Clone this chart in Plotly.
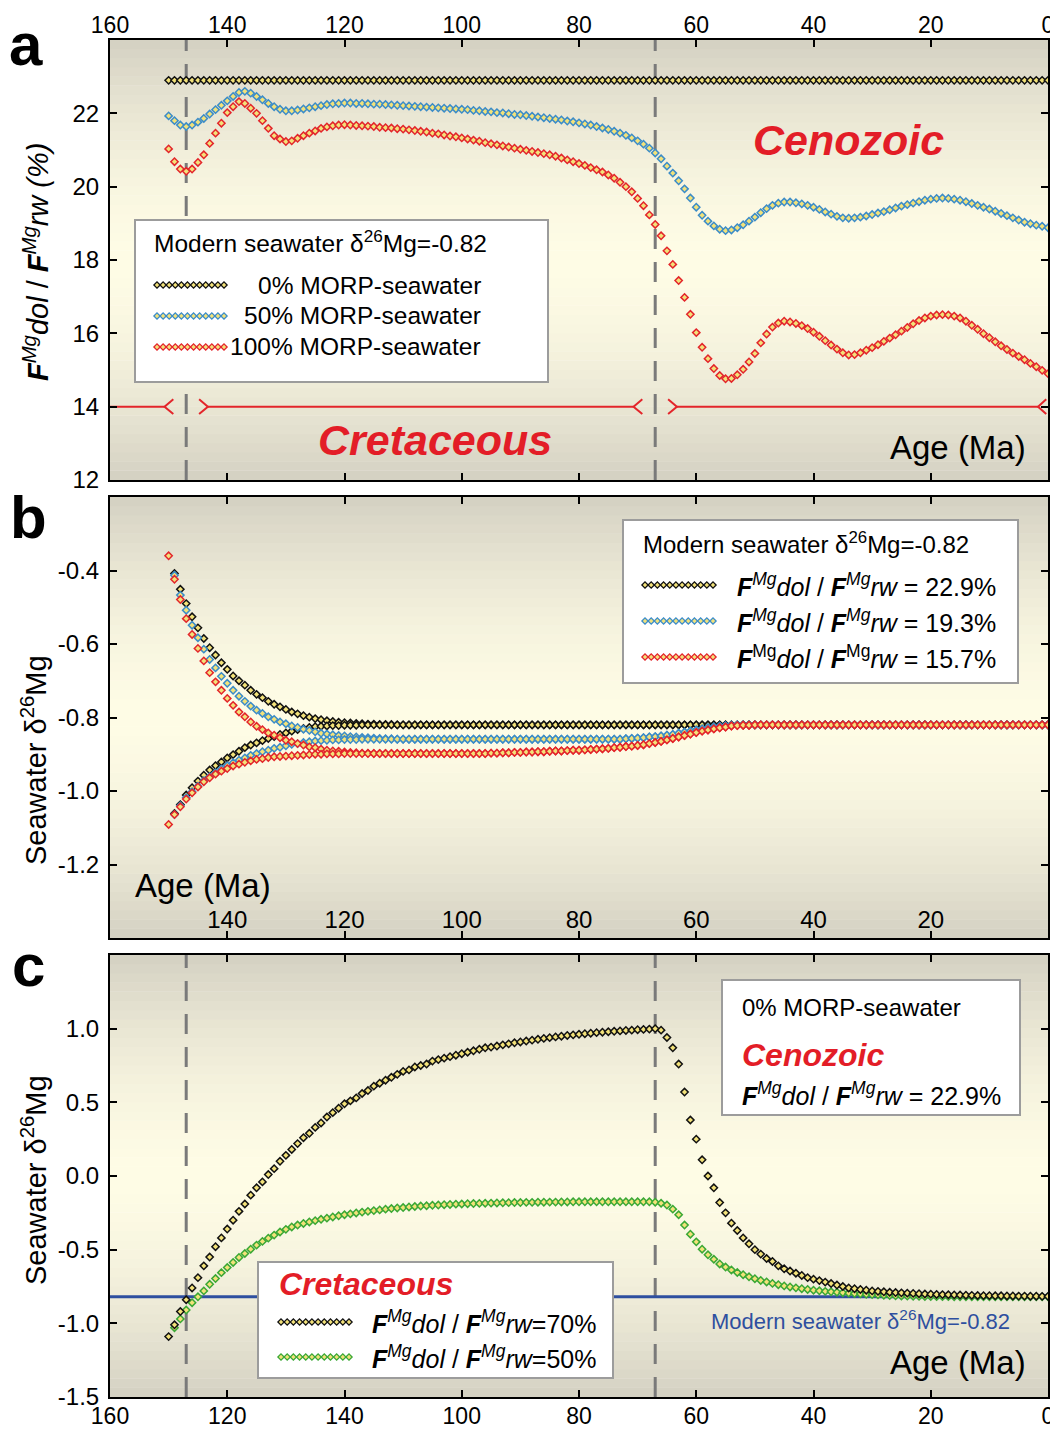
import plotly.graph_objects as go

# The page body adds an 8 px margin; the figure is sized so that figure + margin = 1058 x 1429.
OFF = 8
PAGE_W, PAGE_H = 1058, 1429
W, H = PAGE_W - OFF, PAGE_H - OFF
FONT = "Liberation Sans, Arial, Helvetica, sans-serif"

# ---------------- DATA ----------------
# Panel a: F_dol / F_rw (%) vs age (Ma), 1-Ma steps from 150 to 0
age_a = list(range(150, -1, -1))
a_black = [
    22.9, 22.9, 22.9, 22.9, 22.9, 22.9, 22.9, 22.9, 22.9, 22.9,
    22.9, 22.9, 22.9, 22.9, 22.9, 22.9, 22.9, 22.9, 22.9, 22.9,
    22.9, 22.9, 22.9, 22.9, 22.9, 22.9, 22.9, 22.9, 22.9, 22.9,
    22.9, 22.9, 22.9, 22.9, 22.9, 22.9, 22.9, 22.9, 22.9, 22.9,
    22.9, 22.9, 22.9, 22.9, 22.9, 22.9, 22.9, 22.9, 22.9, 22.9,
    22.9, 22.9, 22.9, 22.9, 22.9, 22.9, 22.9, 22.9, 22.9, 22.9,
    22.9, 22.9, 22.9, 22.9, 22.9, 22.9, 22.9, 22.9, 22.9, 22.9,
    22.9, 22.9, 22.9, 22.9, 22.9, 22.9, 22.9, 22.9, 22.9, 22.9,
    22.9, 22.9, 22.9, 22.9, 22.9, 22.9, 22.9, 22.9, 22.9, 22.9,
    22.9, 22.9, 22.9, 22.9, 22.9, 22.9, 22.9, 22.9, 22.9, 22.9,
    22.9, 22.9, 22.9, 22.9, 22.9, 22.9, 22.9, 22.9, 22.9, 22.9,
    22.9, 22.9, 22.9, 22.9, 22.9, 22.9, 22.9, 22.9, 22.9, 22.9,
    22.9, 22.9, 22.9, 22.9, 22.9, 22.9, 22.9, 22.9, 22.9, 22.9,
    22.9, 22.9, 22.9, 22.9, 22.9, 22.9, 22.9, 22.9, 22.9, 22.9,
    22.9, 22.9, 22.9, 22.9, 22.9, 22.9, 22.9, 22.9, 22.9, 22.9,
    22.9,
]
a_blue = [
    21.93, 21.80, 21.68, 21.64, 21.68, 21.76, 21.86, 21.98, 22.10, 22.22,
    22.34, 22.46, 22.57, 22.60, 22.55, 22.46, 22.37, 22.27, 22.18, 22.11,
    22.07, 22.07, 22.09, 22.12, 22.15, 22.18, 22.21, 22.24, 22.26, 22.27,
    22.28, 22.28, 22.27, 22.27, 22.26, 22.25, 22.25, 22.24, 22.23, 22.22,
    22.21, 22.20, 22.19, 22.18, 22.17, 22.16, 22.15, 22.14, 22.13, 22.12,
    22.11, 22.10, 22.08, 22.07, 22.05, 22.04, 22.02, 22.01, 21.99, 21.97,
    21.96, 21.94, 21.92, 21.90, 21.88, 21.86, 21.84, 21.82, 21.79, 21.77,
    21.74, 21.71, 21.68, 21.64, 21.60, 21.56, 21.51, 21.46, 21.40, 21.33,
    21.25, 21.16, 21.05, 20.92, 20.76, 20.56, 20.37, 20.16, 19.94, 19.69,
    19.44, 19.22, 19.06, 18.93, 18.84, 18.80, 18.82, 18.88, 18.96, 19.06,
    19.17, 19.29, 19.40, 19.49, 19.55, 19.58, 19.58, 19.56, 19.53, 19.49,
    19.44, 19.38, 19.31, 19.25, 19.19, 19.15, 19.14, 19.15, 19.17, 19.20,
    19.24, 19.28, 19.32, 19.37, 19.42, 19.47, 19.51, 19.55, 19.59, 19.63,
    19.66, 19.68, 19.69, 19.68, 19.66, 19.63, 19.59, 19.54, 19.49, 19.44,
    19.39, 19.33, 19.27, 19.21, 19.15, 19.09, 19.03, 18.99, 18.95, 18.92,
    18.88,
]
a_red = [
    21.03, 20.68, 20.48, 20.42, 20.48, 20.66, 20.87, 21.18, 21.46, 21.73,
    22.02, 22.18, 22.32, 22.27, 22.14, 22.00, 21.80, 21.59, 21.39, 21.30,
    21.23, 21.25, 21.32, 21.39, 21.46, 21.52, 21.59, 21.63, 21.66, 21.68,
    21.69, 21.68, 21.67, 21.66, 21.65, 21.64, 21.62, 21.61, 21.60, 21.58,
    21.57, 21.55, 21.53, 21.51, 21.49, 21.46, 21.44, 21.41, 21.38, 21.36,
    21.33, 21.30, 21.27, 21.24, 21.20, 21.17, 21.14, 21.11, 21.08, 21.05,
    21.02, 20.99, 20.96, 20.93, 20.90, 20.87, 20.83, 20.78, 20.73, 20.68,
    20.63, 20.58, 20.52, 20.46, 20.40, 20.32, 20.23, 20.12, 20.00, 19.86,
    19.68, 19.48, 19.23, 18.97, 18.66, 18.25, 17.88, 17.44, 16.98, 16.52,
    16.02, 15.62, 15.31, 15.04, 14.85, 14.76, 14.77, 14.87, 15.02, 15.22,
    15.45, 15.74, 15.98, 16.17, 16.28, 16.33, 16.31, 16.27, 16.21, 16.13,
    16.03, 15.92, 15.80, 15.68, 15.57, 15.47, 15.41, 15.42, 15.47, 15.54,
    15.61, 15.69, 15.78, 15.87, 15.96, 16.06, 16.16, 16.26, 16.35, 16.42,
    16.47, 16.50, 16.51, 16.50, 16.47, 16.42, 16.33, 16.22, 16.11, 15.99,
    15.88, 15.77, 15.66, 15.56, 15.46, 15.37, 15.28, 15.18, 15.09, 14.99,
    14.90,
]

# Panel b: seawater d26Mg; upper/lower starting branches (heads) merge into a common tail
age_b_head_bk = list(range(149, 110, -1))   # 149..111 (black, blue)
age_b_head_rd = list(range(150, 110, -1))   # 150..111 (red)
age_b_tail = list(range(110, -1, -1))       # 110..0
b_black_up_head = [
    -0.408, -0.451, -0.490, -0.526, -0.556, -0.585, -0.610, -0.630, -0.651, -0.669,
    -0.687, -0.700, -0.712, -0.726, -0.737, -0.746, -0.756, -0.764, -0.771, -0.778,
    -0.785, -0.790, -0.795, -0.799, -0.803, -0.806, -0.809, -0.811, -0.813, -0.814,
    -0.815, -0.816, -0.817, -0.818, -0.818, -0.819, -0.819, -0.819, -0.820,
]
b_black_lo_head = [
    -1.061, -1.037, -1.011, -0.991, -0.973, -0.957, -0.943, -0.931, -0.921, -0.910,
    -0.901, -0.892, -0.882, -0.875, -0.869, -0.863, -0.857, -0.852, -0.846, -0.842,
    -0.837, -0.833, -0.830, -0.827, -0.825, -0.824, -0.823, -0.822, -0.822, -0.821,
    -0.821, -0.821, -0.820, -0.820, -0.820, -0.820, -0.820, -0.820, -0.820,
]
b_black_tail = [
    -0.82, -0.82, -0.82, -0.82, -0.82, -0.82, -0.82, -0.82, -0.82, -0.82,
    -0.82, -0.82, -0.82, -0.82, -0.82, -0.82, -0.82, -0.82, -0.82, -0.82,
    -0.82, -0.82, -0.82, -0.82, -0.82, -0.82, -0.82, -0.82, -0.82, -0.82,
    -0.82, -0.82, -0.82, -0.82, -0.82, -0.82, -0.82, -0.82, -0.82, -0.82,
    -0.82, -0.82, -0.82, -0.82, -0.82, -0.82, -0.82, -0.82, -0.82, -0.82,
    -0.82, -0.82, -0.82, -0.82, -0.82, -0.82, -0.82, -0.82, -0.82, -0.82,
    -0.82, -0.82, -0.82, -0.82, -0.82, -0.82, -0.82, -0.82, -0.82, -0.82,
    -0.82, -0.82, -0.82, -0.82, -0.82, -0.82, -0.82, -0.82, -0.82, -0.82,
    -0.82, -0.82, -0.82, -0.82, -0.82, -0.82, -0.82, -0.82, -0.82, -0.82,
    -0.82, -0.82, -0.82, -0.82, -0.82, -0.82, -0.82, -0.82, -0.82, -0.82,
    -0.82, -0.82, -0.82, -0.82, -0.82, -0.82, -0.82, -0.82, -0.82, -0.82,
    -0.82,
]
b_blue_up_head = [
    -0.413, -0.467, -0.508, -0.549, -0.583, -0.614, -0.642, -0.665, -0.688, -0.707,
    -0.726, -0.742, -0.756, -0.769, -0.780, -0.789, -0.798, -0.805, -0.812, -0.817,
    -0.823, -0.827, -0.832, -0.835, -0.839, -0.843, -0.845, -0.847, -0.849, -0.850,
    -0.852, -0.853, -0.854, -0.855, -0.856, -0.857, -0.858, -0.858, -0.859,
]
b_blue_lo_head = [
    -1.064, -1.040, -1.018, -1.002, -0.987, -0.972, -0.961, -0.950, -0.940, -0.931,
    -0.923, -0.916, -0.910, -0.903, -0.898, -0.893, -0.889, -0.884, -0.881, -0.877,
    -0.873, -0.871, -0.868, -0.866, -0.864, -0.863, -0.862, -0.861, -0.861, -0.860,
    -0.860, -0.860, -0.859, -0.859, -0.859, -0.859, -0.859, -0.859, -0.859,
]
b_blue_tail = [
    -0.859, -0.859, -0.859, -0.859, -0.859, -0.859, -0.859, -0.859, -0.859, -0.859,
    -0.859, -0.859, -0.859, -0.859, -0.859, -0.859, -0.859, -0.859, -0.859, -0.859,
    -0.859, -0.859, -0.859, -0.859, -0.859, -0.859, -0.859, -0.859, -0.859, -0.859,
    -0.859, -0.859, -0.859, -0.859, -0.859, -0.859, -0.859, -0.859,
    -0.858, -0.857, -0.856, -0.855, -0.853, -0.852, -0.850, -0.848, -0.846, -0.843,
    -0.840, -0.837, -0.834, -0.831, -0.828, -0.826, -0.824, -0.822, -0.821,
    -0.820, -0.820, -0.820, -0.820, -0.820, -0.820, -0.820, -0.820, -0.820, -0.820,
    -0.820, -0.820, -0.820, -0.820, -0.820, -0.820, -0.820, -0.820, -0.820, -0.820,
    -0.820, -0.820, -0.820, -0.820, -0.820, -0.820, -0.820, -0.820, -0.820, -0.820,
    -0.820, -0.820, -0.820, -0.820, -0.820, -0.820, -0.820, -0.820, -0.820, -0.820,
    -0.820, -0.820, -0.820, -0.820, -0.820, -0.820, -0.820, -0.820, -0.820, -0.820,
    -0.820, -0.820, -0.820, -0.820,
]
b_red_up_head = [
    -0.360, -0.424, -0.479, -0.531, -0.574, -0.612, -0.646, -0.678, -0.703, -0.726,
    -0.748, -0.767, -0.785, -0.798, -0.812, -0.824, -0.833, -0.842, -0.848, -0.855,
    -0.862, -0.866, -0.871, -0.875, -0.880, -0.882, -0.886, -0.889, -0.891, -0.892,
    -0.894, -0.895, -0.896, -0.897, -0.897, -0.898, -0.898, -0.898, -0.898, -0.898,
]
b_red_lo_head = [
    -1.091, -1.064, -1.043, -1.022, -1.005, -0.989, -0.975, -0.964, -0.954, -0.946,
    -0.939, -0.932, -0.927, -0.922, -0.918, -0.914, -0.912, -0.909, -0.907, -0.906,
    -0.905, -0.904, -0.903, -0.902, -0.901, -0.900, -0.900, -0.899, -0.899, -0.899,
    -0.898, -0.898, -0.898, -0.898, -0.898, -0.898, -0.898, -0.898, -0.898, -0.898,
]
b_red_tail = [
    -0.898, -0.898, -0.898, -0.898, -0.898, -0.898, -0.898, -0.898, -0.898, -0.898,
    -0.898, -0.898, -0.898, -0.898, -0.898,
    -0.897, -0.897, -0.896, -0.896, -0.895, -0.895, -0.894, -0.894, -0.893, -0.893,
    -0.892, -0.891, -0.891, -0.890, -0.889, -0.889, -0.888, -0.887, -0.886, -0.885,
    -0.884, -0.882, -0.881, -0.879, -0.878, -0.876, -0.874, -0.871, -0.868, -0.865,
    -0.861, -0.857, -0.853, -0.849, -0.845, -0.841, -0.837, -0.834, -0.831, -0.828,
    -0.826, -0.823, -0.822, -0.821, -0.821, -0.820,
    -0.820, -0.820, -0.820, -0.820, -0.820, -0.820, -0.820, -0.820, -0.820, -0.820,
    -0.820, -0.820, -0.820, -0.820, -0.820, -0.820, -0.820, -0.820, -0.820, -0.820,
    -0.820, -0.820, -0.820, -0.820, -0.820, -0.820, -0.820, -0.820, -0.820, -0.820,
    -0.820, -0.820, -0.820, -0.820, -0.820, -0.820, -0.820, -0.820, -0.820, -0.820,
    -0.820, -0.820, -0.820, -0.820, -0.820, -0.820, -0.820, -0.820, -0.820, -0.820,
]

# Panel c: seawater d26Mg, Cretaceous F_dol/F_rw = 70% (black) and 50% (green)
age_c_black = list(range(150, -1, -1))
age_c_green = list(range(149, -1, -1))
c_black = [
    -1.09, -1.01, -0.92, -0.84, -0.76, -0.69, -0.61, -0.55, -0.48, -0.42,
    -0.36, -0.30, -0.24, -0.19, -0.13, -0.08, -0.04, 0.01, 0.05, 0.10,
    0.14, 0.18, 0.22, 0.26, 0.29, 0.33, 0.36, 0.40, 0.43, 0.46,
    0.49, 0.51, 0.53, 0.56, 0.58, 0.61, 0.63, 0.65, 0.67, 0.69,
    0.71, 0.72, 0.74, 0.75, 0.76, 0.78, 0.79, 0.80, 0.81, 0.82,
    0.83, 0.84, 0.85, 0.86, 0.87, 0.875, 0.882, 0.89, 0.897, 0.904,
    0.91, 0.916, 0.922, 0.928, 0.934, 0.939, 0.944, 0.949, 0.954, 0.958,
    0.962, 0.966, 0.969, 0.973, 0.976, 0.979, 0.982, 0.985, 0.988, 0.99,
    0.993, 0.995, 0.997, 1.0,
    0.99, 0.94, 0.87, 0.76, 0.57, 0.38, 0.25, 0.11, 0.00, -0.08,
    -0.18, -0.25, -0.32, -0.37, -0.42, -0.46, -0.50, -0.53, -0.56, -0.58,
    -0.61, -0.63, -0.645, -0.66, -0.675, -0.69, -0.70, -0.71, -0.72, -0.73,
    -0.74, -0.75, -0.76, -0.765, -0.77, -0.775, -0.78, -0.783, -0.786, -0.789,
    -0.791, -0.793, -0.795, -0.797, -0.799, -0.801, -0.802, -0.804, -0.805, -0.806,
    -0.807, -0.808, -0.809, -0.810, -0.811, -0.812, -0.812, -0.813, -0.813, -0.814,
    -0.814, -0.815, -0.815, -0.816, -0.816, -0.817, -0.817,
]
c_green = [
    -1.03, -0.97, -0.91, -0.86, -0.82, -0.78, -0.735, -0.696, -0.656, -0.621,
    -0.587, -0.553, -0.526, -0.497, -0.469, -0.444, -0.422, -0.401, -0.380, -0.362,
    -0.346, -0.333, -0.322, -0.312, -0.303, -0.294, -0.286, -0.278, -0.270, -0.263,
    -0.257, -0.251, -0.245, -0.240, -0.235, -0.230, -0.225, -0.221, -0.217, -0.214,
    -0.210, -0.207, -0.204, -0.202, -0.199, -0.197, -0.195, -0.193, -0.191, -0.190,
    -0.188, -0.187, -0.186, -0.185, -0.184, -0.183, -0.182, -0.181, -0.180, -0.180,
    -0.179, -0.179, -0.178, -0.178, -0.177, -0.177, -0.176, -0.176, -0.175, -0.175,
    -0.175, -0.175, -0.175, -0.175, -0.175, -0.175, -0.175, -0.175, -0.175, -0.175,
    -0.175, -0.175, -0.178,
    -0.185, -0.197, -0.225, -0.263, -0.333, -0.395, -0.447, -0.497, -0.535, -0.565,
    -0.597, -0.618, -0.638, -0.655, -0.670, -0.684, -0.697, -0.709, -0.719, -0.729,
    -0.738, -0.746, -0.753, -0.759, -0.765, -0.770, -0.775, -0.779, -0.783, -0.786,
    -0.789, -0.792, -0.795, -0.798, -0.800, -0.803, -0.805, -0.807, -0.809, -0.811,
    -0.813, -0.814, -0.815, -0.816, -0.817, -0.818, -0.818, -0.819, -0.819, -0.819,
    -0.820, -0.820, -0.820, -0.820, -0.820, -0.820, -0.820, -0.820, -0.820, -0.820,
    -0.820, -0.820, -0.820, -0.820, -0.820, -0.820, -0.820,
]

modern_d26 = -0.82
boundary_ages = [147, 67]          # dashed vertical lines
period_arrow_y = 14                # red Cretaceous / Cenozoic span arrows in panel a
x_tickvals = [160, 140, 120, 100, 80, 60, 40, 20, 0]
a_xticktext = ["160", "140", "120", "100", "80", "60", "40", "20", "0"]
b_xtickvals = [140, 120, 100, 80, 60, 40, 20]
b_xticktext = ["140", "120", "100", "80", "60", "40", "20"]
c_xticktext = ["160", "120", "140", "100", "80", "60", "40", "20", "0"]
a_yticks = [12, 14, 16, 18, 20, 22]
a_yticktext = ["12", "14", "16", "18", "20", "22"]
b_yticks = [-1.4, -1.2, -1.0, -0.8, -0.6, -0.4]
b_yticktext = ["-1.4", "-1.2", "-1.0", "-0.8", "-0.6", "-0.4"]
c_yticks = [-1.5, -1.0, -0.5, 0.0, 0.5, 1.0]
c_yticktext = ["-1.5", "-1.0", "-0.5", "0.0", "0.5", "1.0"]

# ---------------- STYLE ----------------
RED = "#e3252b"
BLUE = "#3b8cc8"
BLACK = "#111111"
GREEN = "#3aa835"
FILL = "#f3e27a"
LINEBLUE = "#2e4f9f"
TXTRED = "#e31d27"

# panel frames in page pixels
LEFT, RIGHT = 110, 1048
PAN = {
    "a": dict(xr="x", yr="y", top=40, bottom=480),
    "b": dict(xr="x2", yr="y2", top=497, bottom=938),
    "c": dict(xr="x3", yr="y3", top=955, bottom=1397),
}


def fx(px):
    return (px - OFF) / W


def fy(py):
    return 1 - (py - OFF) / H


fig = go.Figure()


def mk(color, size=5.6, lw=1.5):
    return dict(symbol="diamond", size=size, color=FILL, line=dict(color=color, width=lw))


def add_series(x, y, color, xa, ya):
    fig.add_trace(go.Scatter(x=x, y=y, mode="markers", marker=mk(color),
                             xaxis=xa, yaxis=ya, showlegend=False, hoverinfo="x+y"))


# panel a
add_series(age_a, a_black, BLACK, "x", "y")
add_series(age_a, a_blue, BLUE, "x", "y")
add_series(age_a, a_red, RED, "x", "y")
# panel b
add_series(age_b_head_bk + age_b_tail, b_black_up_head + b_black_tail, BLACK, "x2", "y2")
add_series(age_b_head_bk + age_b_tail, b_black_lo_head + b_black_tail, BLACK, "x2", "y2")
add_series(age_b_head_bk + age_b_tail, b_blue_up_head + b_blue_tail, BLUE, "x2", "y2")
add_series(age_b_head_bk + age_b_tail, b_blue_lo_head + b_blue_tail, BLUE, "x2", "y2")
add_series(age_b_head_rd + age_b_tail, b_red_up_head + b_red_tail, RED, "x2", "y2")
add_series(age_b_head_rd + age_b_tail, b_red_lo_head + b_red_tail, RED, "x2", "y2")
# panel c
add_series(age_c_green, c_green, GREEN, "x3", "y3")
add_series(age_c_black, c_black, BLACK, "x3", "y3")

# ---------------- DECORATION (shapes) ----------------
shapes = []
EDGE = (212, 208, 194)
MID = (254, 252, 229)
NB = 48
for key, p in PAN.items():
    xd = p["xr"] + " domain"
    yd = p["yr"] + " domain"
    for i in range(NB):
        t = abs((i + 0.5) / NB * 2 - 1)
        w = t ** 1.7
        col = tuple(int(round(MID[k] + (EDGE[k] - MID[k]) * w)) for k in range(3))
        shapes.append(dict(type="rect", xref=xd, yref=yd, x0=0, x1=1,
                           y0=i / NB, y1=(i + 1) / NB + 0.001, layer="below",
                           line=dict(width=0), fillcolor="rgb(%d,%d,%d)" % col))

# dashed boundary lines (panels a and c)
for key in ("a", "c"):
    p = PAN[key]
    for b in boundary_ages:
        shapes.append(dict(type="line", xref=p["xr"], yref=p["yr"] + " domain",
                           x0=b, x1=b, y0=0, y1=1, layer="below",
                           line=dict(color="#7a7a7a", width=3, dash="20px,13px")))

# modern seawater line (panel c)
shapes.append(dict(type="line", xref="x3 domain", yref="y3", x0=0, x1=1,
                   y0=modern_d26, y1=modern_d26, layer="below",
                   line=dict(color=LINEBLUE, width=3)))

# red period span arrows in panel a
CH_IN, CH_OUT, CH_H = 2.2, 3.7, 0.2
b1, b2 = boundary_ages
segs = [(160, b1 + CH_OUT), (b1 - CH_OUT, b2 + CH_OUT), (b2 - CH_OUT, 0 + 1.7)]
for s0, s1 in segs:
    shapes.append(dict(type="line", xref="x", yref="y", x0=s0, x1=s1,
                       y0=period_arrow_y, y1=period_arrow_y, layer="below",
                       line=dict(color=RED, width=2)))
chev = [(b1 + CH_OUT, b1 + CH_IN), (b1 - CH_OUT, b1 - CH_IN),
        (b2 + CH_OUT, b2 + CH_IN), (b2 - CH_OUT, b2 - CH_IN), (1.7, 0.3)]
for tip, arm in chev:
    y = period_arrow_y
    shapes.append(dict(type="path", xref="x", yref="y", layer="below",
                       path="M %f,%f L %f,%f L %f,%f" % (arm, y + CH_H, tip, y, arm, y - CH_H),
                       line=dict(color=RED, width=2)))


def box(key, px0, py0, px1, py1):
    p = PAN[key]
    hh = p["bottom"] - p["top"]
    shapes.append(dict(type="rect", xref=p["xr"] + " domain", yref=p["yr"] + " domain",
                       x0=(px0 - LEFT) / (RIGHT - LEFT), x1=(px1 - LEFT) / (RIGHT - LEFT),
                       y0=(p["bottom"] - py1) / hh, y1=(p["bottom"] - py0) / hh,
                       layer="below", fillcolor="white",
                       line=dict(color="#9c9c9c", width=2)))


box("a", 135, 220, 548, 382)
box("b", 623, 520, 1018, 683)
box("c", 722, 980, 1020, 1115)
box("c", 258, 1262, 613, 1378)


# legend sample chains on a full-figure overlay axis in page pixels
def sample(x0, x1, y, color, n=12):
    xs = [x0 + (x1 - x0) * i / (n - 1) for i in range(n)]
    fig.add_trace(go.Scatter(x=xs, y=[y] * n, mode="markers", xaxis="x4", yaxis="y4",
                             marker=dict(symbol="diamond", size=4.8, color=FILL,
                                         line=dict(color=color, width=1.3)),
                             showlegend=False, hoverinfo="skip"))


sample(157, 224, 285, BLACK)
sample(157, 224, 316, BLUE)
sample(157, 224, 347, RED)
sample(645, 713, 585, BLACK)
sample(645, 713, 621, BLUE)
sample(645, 713, 657, RED)
sample(281, 349, 1322, BLACK)
sample(281, 349, 1357, GREEN)


# ---------------- TEXT ----------------
def txt(s, px, py, size, color="black", xanchor="center", angle=0):
    fig.add_annotation(text=s, x=fx(px), y=fy(py), xref="paper", yref="paper",
                       showarrow=False, xanchor=xanchor, yanchor="middle", textangle=angle,
                       font=dict(size=size, color=color, family=FONT))


FMG = "<b><i>F</i></b><sup><i>Mg</i></sup><i>dol</i> / <b><i>F</i></b><sup><i>Mg</i></sup><i>rw</i>"
FMG_UP = "<b><i>F</i></b><sup>Mg</sup><i>dol</i> / <b><i>F</i></b><sup>Mg</sup><i>rw</i>"
D26 = "δ<sup>26</sup>Mg"

# panel labels
txt("<b>a</b>", 26, 44, 60)
txt("<b>b</b>", 28, 517, 60)
txt("<b>c</b>", 28, 965, 60)

# panel a
txt("<b><i>Cenozoic</i></b>", 848, 140, 43, TXTRED)
txt("<b><i>Cretaceous</i></b>", 435, 440, 43, TXTRED)
txt("Age (Ma)", 958, 447, 33)
txt(FMG + " <i>(%)</i>", 36, 262, 29, angle=-90)
txt("Modern seawater " + D26 + "=-0.82", 152, 241, 24.5, xanchor="left")
txt("0% MORP-seawater", 483, 285, 24.5, xanchor="right")
txt("50% MORP-seawater", 483, 316, 24.5, xanchor="right")
txt("100% MORP-seawater", 483, 347, 24.5, xanchor="right")

# panel b
txt("Seawater " + D26, 34, 760, 29, angle=-90)
txt("Age (Ma)", 203, 885, 33)
txt("Modern seawater " + D26 + "=-0.82", 641, 543, 24, xanchor="left")
txt(FMG + " = 22.9%", 735, 585, 25, xanchor="left")
txt(FMG + " = 19.3%", 735, 621, 25, xanchor="left")
txt(FMG_UP + " = 15.7%", 735, 657, 25, xanchor="left")

# panel c
txt("Seawater " + D26, 34, 1180, 29, angle=-90)
txt("Age (Ma)", 958, 1362, 33)
txt("0% MORP-seawater", 740, 1007, 24, xanchor="left")
txt("<b><i>Cenozoic</i></b>", 740, 1055, 32, TXTRED, xanchor="left")
txt(FMG + " = 22.9%", 740, 1094, 25, xanchor="left")
txt("<b><i>Cretaceous</i></b>", 277, 1284, 32, TXTRED, xanchor="left")
txt(FMG + "=70%", 370, 1322, 25, xanchor="left")
txt(FMG + "=50%", 370, 1357, 25, xanchor="left")
txt("Modern seawater " + D26 + "=-0.82", 860, 1320, 22, LINEBLUE)

# ---------------- AXES ----------------
XD = [fx(LEFT), fx(RIGHT)]


def ydom(key):
    p = PAN[key]
    return [fy(p["bottom"]), fy(p["top"])]


axcommon = dict(showline=True, linecolor="black", linewidth=2, mirror="ticks",
                ticks="inside", ticklen=7, tickwidth=1.5, tickcolor="black",
                showgrid=False, zeroline=False, automargin=False,
                tickfont=dict(size=24, family=FONT, color="black"))
YSTAND = 4

fig.update_layout(
    width=W, height=H,
    margin=dict(l=0, r=0, t=0, b=0, autoexpand=False),
    paper_bgcolor="white",
    plot_bgcolor="rgba(0,0,0,0)",
    showlegend=False,
    shapes=shapes,
    xaxis=dict(axcommon, domain=XD, range=[160, 0], side="top", anchor="y",
               tickvals=x_tickvals, ticktext=a_xticktext, ticklabelstandoff=-4,
               tickfont=dict(size=23, family=FONT, color="black")),
    yaxis=dict(axcommon, domain=ydom("a"), range=[12, 24], anchor="x",
               tickvals=a_yticks, ticktext=a_yticktext, ticklabelstandoff=YSTAND),
    xaxis2=dict(axcommon, domain=XD, range=[160, 0], anchor="y2",
                tickvals=b_xtickvals, ticktext=b_xticktext, ticklabelposition="inside"),
    yaxis2=dict(axcommon, domain=ydom("b"), range=[-1.4, -0.2], anchor="x2",
                tickvals=b_yticks, ticktext=b_yticktext, ticklabelstandoff=YSTAND),
    xaxis3=dict(axcommon, domain=XD, range=[160, 0], anchor="y3",
                tickvals=x_tickvals, ticktext=c_xticktext, ticklabelstandoff=-3,
                tickfont=dict(size=23, family=FONT, color="black")),
    yaxis3=dict(axcommon, domain=ydom("c"), range=[-1.5, 1.5], anchor="x3",
                tickvals=c_yticks, ticktext=c_yticktext, ticklabelstandoff=YSTAND),
    xaxis4=dict(domain=[0, 1], range=[OFF, OFF + W], visible=False, anchor="y4",
                fixedrange=True, automargin=False),
    yaxis4=dict(domain=[0, 1], range=[OFF + H, OFF], visible=False, anchor="x4",
                fixedrange=True, automargin=False),
)

fig.write_html("out.html")
